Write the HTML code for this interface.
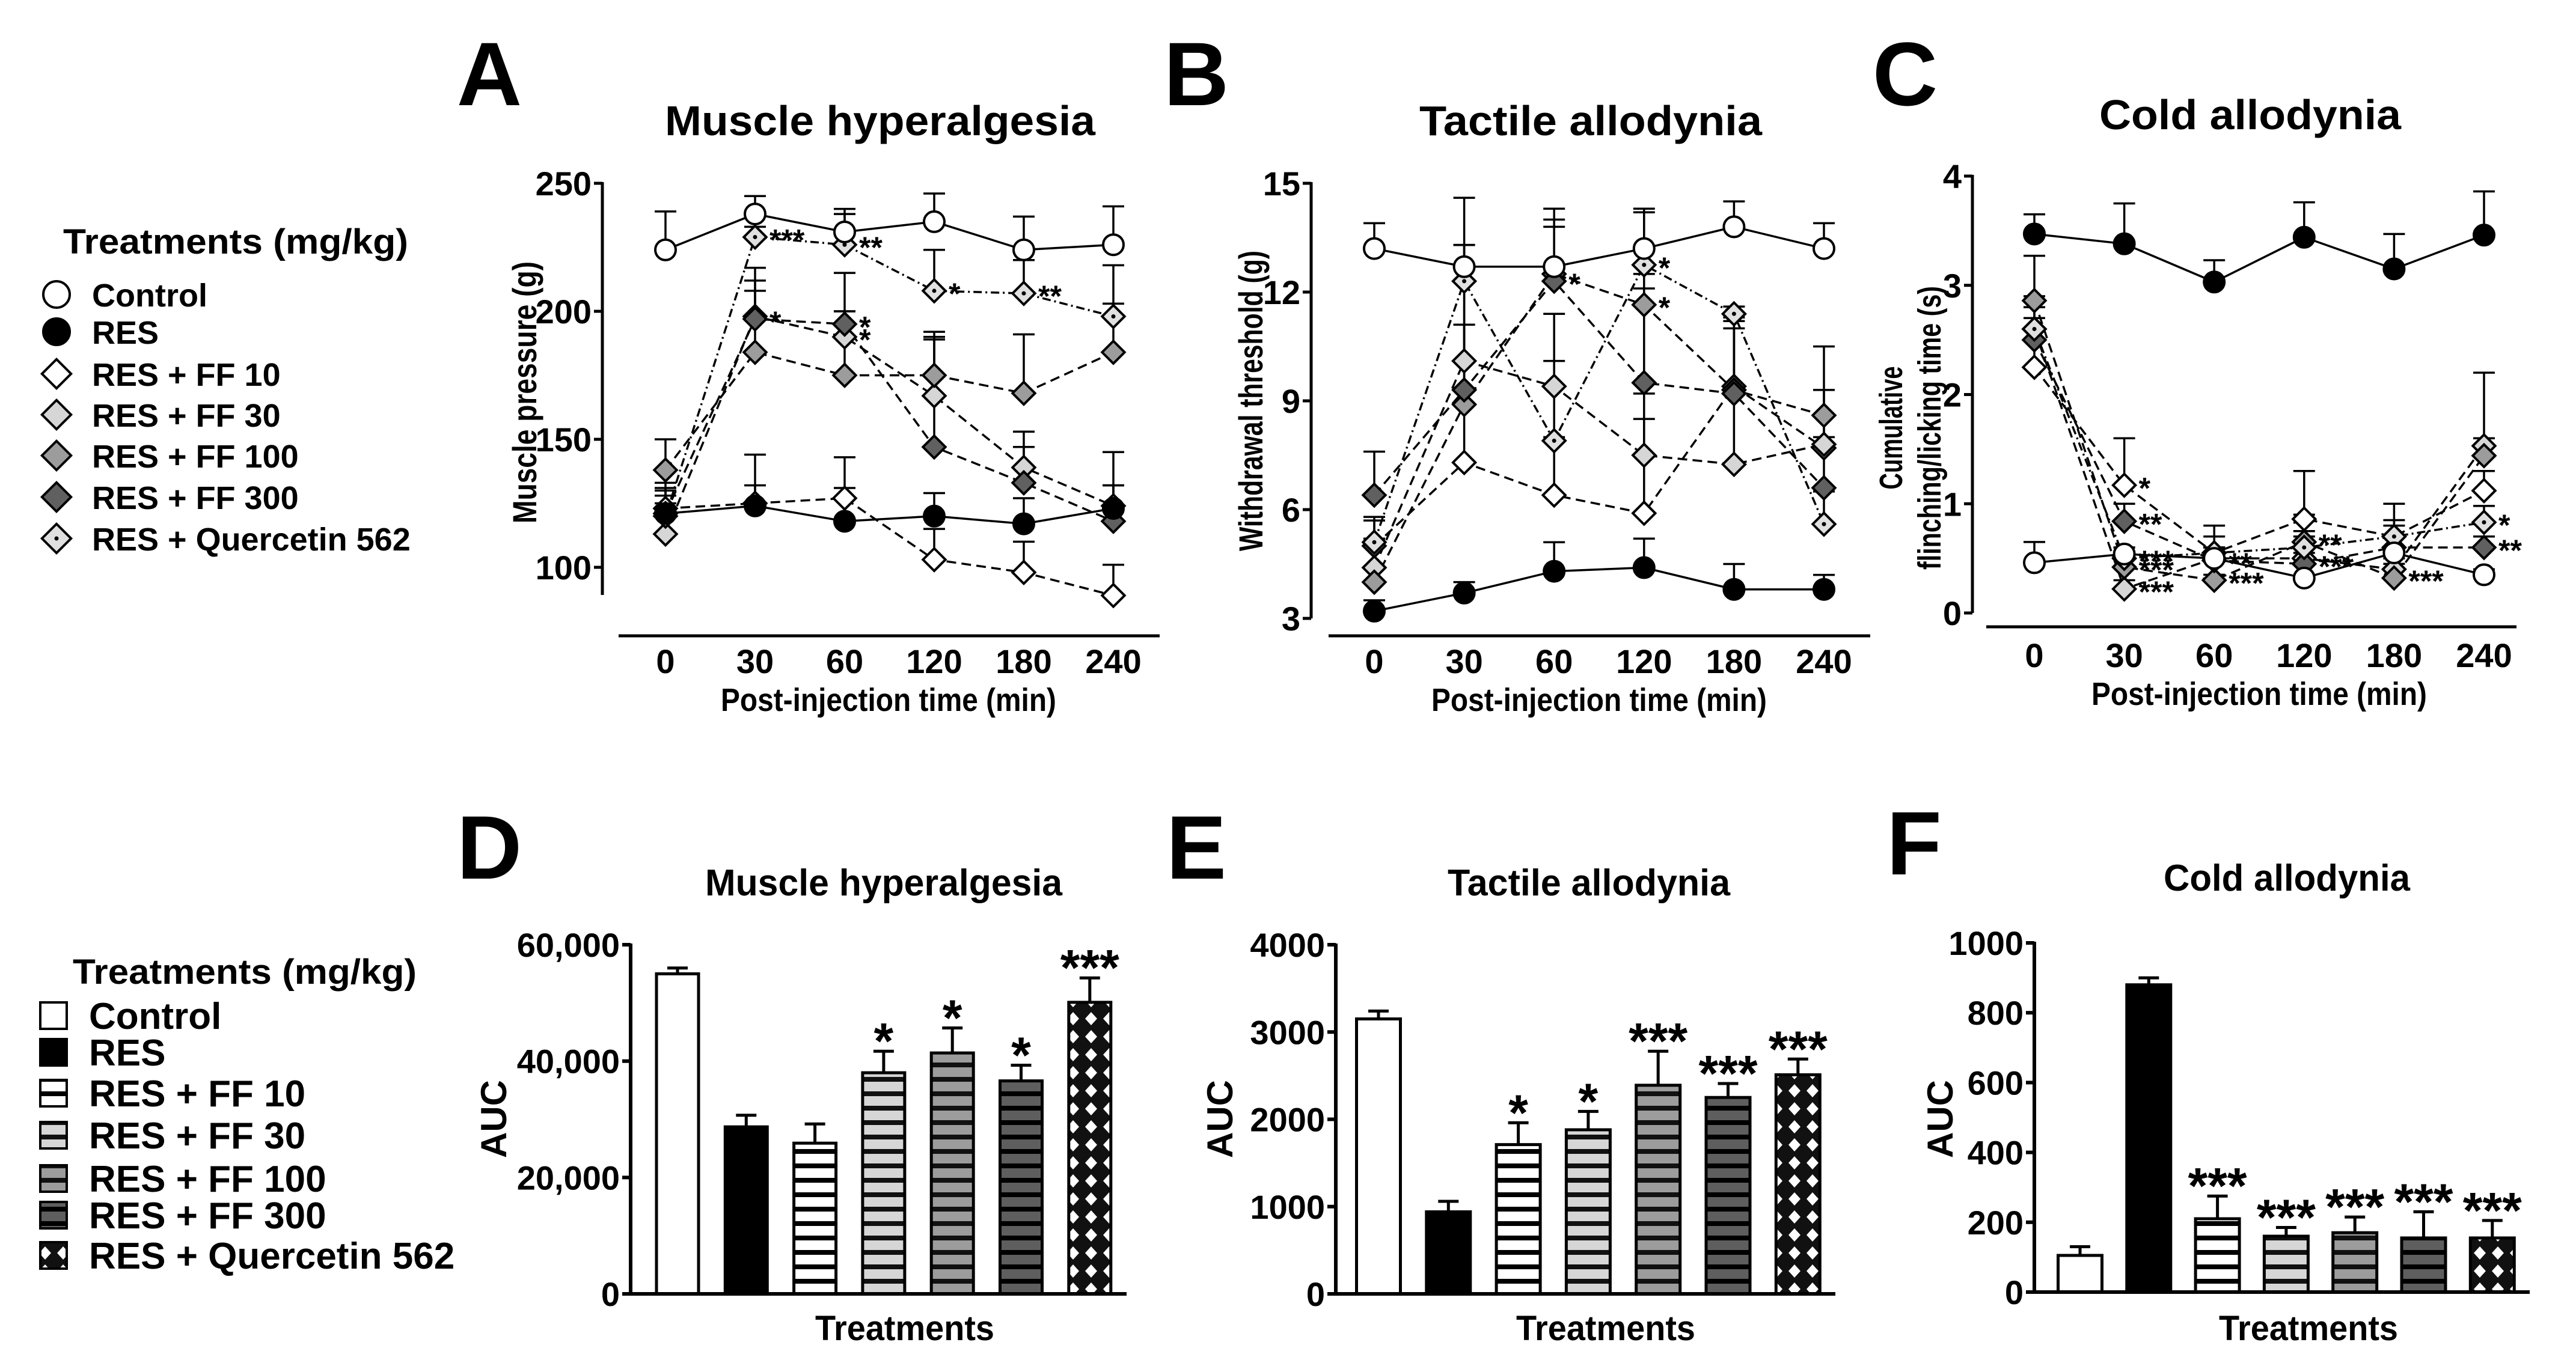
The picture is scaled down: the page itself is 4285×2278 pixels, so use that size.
<!DOCTYPE html>
<html><head><meta charset="utf-8">
<style>
html,body{margin:0;padding:0;background:#fff;}
svg{display:block;font-family:"Liberation Sans",Arial,sans-serif;font-weight:bold;}
</style></head>
<body>
<svg id="fig" width="4285" height="2278" viewBox="0 0 4285 2278" xmlns="http://www.w3.org/2000/svg">
<defs>
<pattern id="p-ff10" patternUnits="userSpaceOnUse" width="24" height="24"><rect width="24" height="24" fill="#fff"/><rect y="16" width="24" height="8" fill="#000"/></pattern>
<pattern id="p-ff30" patternUnits="userSpaceOnUse" width="24" height="24"><rect width="24" height="24" fill="#d6d6d6"/><rect y="16" width="24" height="8" fill="#111"/></pattern>
<pattern id="p-ff100" patternUnits="userSpaceOnUse" width="24" height="24"><rect width="24" height="24" fill="#9c9c9c"/><rect y="16" width="24" height="8" fill="#111"/></pattern>
<pattern id="p-ff300" patternUnits="userSpaceOnUse" width="24" height="24"><rect width="24" height="24" fill="#5e5e5e"/><rect y="16" width="24" height="8" fill="#000"/></pattern>
<pattern id="p-q" patternUnits="userSpaceOnUse" width="30" height="30"><rect width="30" height="30" fill="#111"/><path d="M15 4 L25 15 L15 26 L5 15 Z" fill="#fff"/></pattern>
</defs>
<g id="root"></g>
</svg>
<script>
// ---------- Panel A data (Muscle hyperalgesia, g) ----------
const timeLabels = ["0","30","60","120","180","240"];
const aControl = [224,238,231,235,224,226];
const aRes     = [121,124,118,120,117,123];
const aFF10    = [123,125,127,103,98,89];
const aFF30    = [113,198,190,167,139,124];
const aFF100   = [138,184,175,175,168,184];
const aFF300   = [121,197,195,147,133,118];
const aQ       = [120,229,226,208,207,198];
const aControlErr = [239,245,240,246,237,241];
const aResErr     = [131,132,131,129,127,132];
const aFF10Err    = [130,144,143,115,110,101];
const aFF30Err    = [125,217,200,190,153,145];
const aFF100Err   = [150,208,215,192,191,218];
const aFF300Err   = [133,212,200,189,147,132];
const aQErr       = [128,233,238,224,220,203];
const aTicks = [100,150,200,250];
// ---------- Panel B data (Tactile allodynia, g) ----------
const bControl = [13.2,12.7,12.7,13.2,13.8,13.2];
const bRes     = [3.2,3.7,4.3,4.4,3.8,3.8];
const bFF10    = [5.0,7.3,6.4,5.9,9.4,7.7];
const bFF30    = [4.4,10.1,9.4,7.5,7.25,7.8];
const bFF100   = [4.0,8.9,12.5,11.65,9.3,8.6];
const bFF300   = [6.4,9.3,12.3,9.5,9.2,6.6];
const bQ       = [5.1,12.3,7.9,12.75,11.4,5.6];
const bControlErr = [13.9,14.6,14.3,14.3,14.5,13.9];
const bResErr     = [3.5,4.0,5.1,5.2,4.5,4.2];
const bFF10Err    = [5.7,11.1,10.1,8.5,11.2,9.3];
const bFF30Err    = [5.1,13.3,11.4,9.2,9.2,8.0];
const bFF100Err   = [5.2,11.1,14.0,12.5,11.0,10.5];
const bFF300Err   = [7.6,12.7,13.8,12.1,11.3,8.6];
const bQErr       = [5.8,13.3,8.0,14.2,11.6,6.5];
const bTicks = [3,6,9,12,15];
// ---------- Panel C data (Cold allodynia, s) ----------
const cControl = [0.46,0.54,0.5,0.32,0.55,0.35];
const cRes     = [3.47,3.38,3.03,3.44,3.15,3.46];
const cFF10    = [2.25,1.17,0.55,0.86,0.7,1.12];
const cFF30    = [2.6,0.22,0.5,0.5,0.4,1.53];
const cFF100   = [2.86,0.42,0.3,0.65,0.32,1.44];
const cFF300   = [2.5,0.84,0.48,0.45,0.6,0.6];
const cQ       = [2.6,0.5,0.55,0.6,0.7,0.83];
const cControlErr = [0.65,0.6,0.6,0.45,0.7,0.4];
const cResErr     = [3.65,3.75,3.23,3.76,3.47,3.86];
const cFF10Err    = [2.5,1.6,0.7,1.3,1.0,1.3];
const cFF30Err    = [2.8,0.3,0.6,0.7,0.5,2.2];
const cFF100Err   = [3.27,0.5,0.35,0.9,0.45,1.6];
const cFF300Err   = [2.7,1.0,0.6,0.55,0.8,0.7];
const cQErr       = [2.9,0.6,0.8,0.75,0.85,0.98];
const cTicks = [0,1,2,3,4];
// ---------- Bar data (AUC) ----------
const groups = ["Control","RES","RES + FF 10","RES + FF 30","RES + FF 100","RES + FF 300","RES + Quercetin 562"];
const dValues = [55000,28700,25900,38000,41400,36600,50100];
const dErr    = [56000,30700,29200,41700,45700,39300,54300];
const dStars  = ["","","","*","*","*","***"];
const dTicks  = [0,20000,40000,60000];
const dTickLabels = ["0","20,000","40,000","60,000"];
const eValues = [3150,940,1710,1880,2390,2250,2510];
const eErr    = [3240,1060,1960,2090,2780,2410,2690];
const eStars  = ["","","*","*","***","***","***"];
const eTicks  = [0,1000,2000,3000,4000];
const eTickLabels = ["0","1000","2000","3000","4000"];
const fValues = [105,880,210,160,170,155,155];
const fErr    = [130,900,275,185,215,230,205];
const fStars  = ["","","***","***","***","***","***"];
const fTicks  = [0,200,400,600,800,1000];
const fTickLabels = ["0","200","400","600","800","1000"];

const NS="http://www.w3.org/2000/svg";
const root=document.getElementById('root');
function mk(tag,attrs,parent){const e=document.createElementNS(NS,tag);for(const k in attrs)e.setAttribute(k,attrs[k]);(parent||root).appendChild(e);return e;}
function txt(s,attrs,parent){const e=mk('text',attrs,parent);e.textContent=s;return e;}

const styles={
 control:{fill:"#fff",shape:"circle",dash:null},
 res:{fill:"#000",shape:"circle",dash:null},
 ff10:{fill:"#fff",shape:"diamond",dash:"16 9"},
 ff30:{fill:"#d6d6d6",shape:"diamond",dash:"16 9"},
 ff100:{fill:"#9c9c9c",shape:"diamond",dash:"16 9"},
 ff300:{fill:"#606060",shape:"diamond",dash:"16 9"},
 q:{fill:"#e0e0e0",shape:"diamond",dash:"14 6 3 6",dot:true}
};
function marker(g,kind,x,y,sz){
  const s=styles[kind];
  if(s.shape==="circle"){const c=mk('circle',{cx:x,cy:y,r:sz,fill:s.fill,stroke:"#000","stroke-width":4},g);}
  else{const d=sz*1.1;const p=mk('path',{d:`M${x} ${y-d} L${x+d} ${y} L${x} ${y+d} L${x-d} ${y} Z`,fill:s.fill,stroke:"#000","stroke-width":4},g);
    if(s.dot){const dd=mk('circle',{cx:x,cy:y,r:3.5,fill:"#000"},g);}}
}

function linePanel(cfg){
  const g=mk('g',{});
  
  
  const yS=v=>cfg.y0px+(v-cfg.y0)*(cfg.y1px-cfg.y0px)/(cfg.y1-cfg.y0);
  const xS=i=>cfg.xFirst+i*cfg.xStep;
  const t=txt(cfg.letter,{x:cfg.letterX,y:cfg.letterY,"font-size":150,"text-anchor":"middle"},g);
  
  const ti=txt(cfg.title,{x:cfg.titleX,y:cfg.titleY,"font-size":70,"text-anchor":"middle",textLength:cfg.titleLen,lengthAdjust:"spacingAndGlyphs"},g);
  
  const ya=mk('line',{x1:cfg.axX,y1:yS(cfg.ticks[cfg.ticks.length-1])-2,x2:cfg.axX,y2:cfg.axBottom,stroke:"#000","stroke-width":5},g);
  
  const xa=mk('line',{x1:cfg.xaX1,y1:cfg.xaY,x2:cfg.xaX2,y2:cfg.xaY,stroke:"#000","stroke-width":5},g);
  
  cfg.ticks.forEach(v=>{
    const tk=mk('line',{x1:cfg.axX-14,y1:yS(v),x2:cfg.axX,y2:yS(v),stroke:"#000","stroke-width":5},g);
    
    const tl=txt(String(v),{x:cfg.axX-18,y:yS(v)+20,"font-size":56,"text-anchor":"end"},g);
    
  });
  timeLabels.forEach((l,i)=>{
    const tl=txt(l,{x:xS(i),y:cfg.xLabY,"font-size":56,"text-anchor":"middle"},g);
    
  });
  const xt=txt("Post-injection time (min)",{x:cfg.xTitleX,y:cfg.xTitleY,"font-size":54,"text-anchor":"middle",textLength:558,lengthAdjust:"spacingAndGlyphs"},g);
  
  cfg.yTitle.forEach((line,k)=>{
    const yt=txt(line,{x:0,y:0,"font-size":cfg.yTitleSize,"text-anchor":"middle",transform:`translate(${cfg.yTitleX+k*64},${cfg.yTitleY}) rotate(-90)`,textLength:cfg.yTitleLen[k],lengthAdjust:"spacingAndGlyphs"},g);
    
  });
  const order=["ff10","ff30","ff100","ff300","q","res","control"];
  order.forEach(k=>{
    const vals=cfg.series[k];
    const pts=vals.map((v,i)=>xS(i)+","+yS(v)).join(" ");
    const a={points:pts,fill:"none",stroke:"#000","stroke-width":cfg.lw};
    if(styles[k].dash)a["stroke-dasharray"]=styles[k].dash;
    const pl=mk('polyline',a,g);
    
  });
  order.forEach(k=>{
    const vals=cfg.series[k],err=cfg.errs[k];
    vals.forEach((v,i)=>{
      const x=xS(i);
      const eb=mk('path',{d:`M${x} ${yS(v)} V${yS(err[i])} M${x-18} ${yS(err[i])} H${x+18}`,stroke:"#000","stroke-width":3.5,fill:"none"},g);
      
    });
  });
  order.forEach(k=>{cfg.series[k].forEach((v,i)=>marker(g,k,xS(i),yS(v),cfg.msz));});
  cfg.stars.forEach(s=>{
    const v=cfg.series[s[0]][s[1]];
    const st=txt(s[2],{x:xS(s[1])+24,y:yS(v)+22,"font-size":50},g);
    
  });
}

linePanel({name:"panel-a-muscle-hyperalgesia",letter:"A",letterX:814,letterY:175,title:"Muscle hyperalgesia",titleX:1464,titleY:225,titleLen:716,
 y0:100,y1:250,y0px:944,y1px:305,axX:1002,axBottom:990,xaX1:1029,xaX2:1929,xaY:1058,xFirst:1107,xStep:149,xLabY:1120,xTitleX:1478,xTitleY:1183,
 yTitle:["Muscle pressure (g)"],yTitleX:892,yTitleY:653,yTitleLen:[436],yTitleSize:56,ticks:aTicks,lw:3.5,msz:17,
 series:{control:aControl,res:aRes,ff10:aFF10,ff30:aFF30,ff100:aFF100,ff300:aFF300,q:aQ},
 errs:{control:aControlErr,res:aResErr,ff10:aFF10Err,ff30:aFF30Err,ff100:aFF100Err,ff300:aFF300Err,q:aQErr},
 stars:[["q",1,"***"],["q",2,"**"],["q",3,"*"],["q",4,"**"],["ff300",1,"*"],["ff300",2,"*"],["ff30",2,"*"]]});
linePanel({name:"panel-b-tactile-allodynia",letter:"B",letterX:1990,letterY:175,title:"Tactile allodynia",titleX:2646,titleY:225,titleLen:570,
 y0:3,y1:15,y0px:1029,y1px:305,axX:2181,axBottom:1029,xaX1:2210,xaX2:3111,xaY:1058,xFirst:2286,xStep:149.6,xLabY:1120,xTitleX:2660,xTitleY:1183,
 yTitle:["Withdrawal threshold (g)"],yTitleX:2100,yTitleY:667,yTitleLen:[500],yTitleSize:56,ticks:bTicks,lw:3.5,msz:17,
 series:{control:bControl,res:bRes,ff10:bFF10,ff30:bFF30,ff100:bFF100,ff300:bFF300,q:bQ},
 errs:{control:bControlErr,res:bResErr,ff10:bFF10Err,ff30:bFF30Err,ff100:bFF100Err,ff300:bFF300Err,q:bQErr},
 stars:[["ff300",2,"*"],["q",3,"*"],["ff100",3,"*"]]});
linePanel({name:"panel-c-cold-allodynia",letter:"C",letterX:3169,letterY:175,title:"Cold allodynia",titleX:3743,titleY:215,titleLen:502,
 y0:0,y1:4,y0px:1020,y1px:293,axX:3281,axBottom:1020,xaX1:3304,xaX2:4186,xaY:1043,xFirst:3384,xStep:149.6,xLabY:1110,xTitleX:3758,xTitleY:1173,
 yTitle:["Cumulative","flinching/licking time (s)"],yTitleX:3164,yTitleY:712,yTitleLen:[205,472],yTitleSize:54,ticks:cTicks,lw:3.5,msz:17,
 series:{control:cControl,res:cRes,ff10:cFF10,ff30:cFF30,ff100:cFF100,ff300:cFF300,q:cQ},
 errs:{control:cControlErr,res:cResErr,ff10:cFF10Err,ff30:cFF30Err,ff100:cFF100Err,ff300:cFF300Err,q:cQErr},
 stars:[["ff10",1,"*"],["ff300",1,"**"],["q",1,"***"],["ff100",1,"***"],["ff30",1,"***"],["ff300",2,"**"],["ff100",2,"***"],["ff100",3,"**"],["ff300",3,"***"],["ff100",4,"***"],["q",5,"*"],["ff300",5,"**"]]});

const fills=["#fff","#000","url(#p-ff10)","url(#p-ff30)","url(#p-ff100)","url(#p-ff300)","url(#p-q)"];
function barPanel(cfg){
  const g=mk('g',{});
  
  
  const yS=v=>cfg.y0px+(v-cfg.ticks[0])*(cfg.y1px-cfg.y0px)/(cfg.ticks[cfg.ticks.length-1]-cfg.ticks[0]);
  const xS=i=>cfg.xFirst+i*cfg.xStep;
  const t=txt(cfg.letter,{x:cfg.letterX,y:cfg.letterY,"font-size":150,"text-anchor":"middle"},g);
  
  const ti=txt(cfg.title,{x:cfg.titleX,y:cfg.titleY,"font-size":62,"text-anchor":"middle",textLength:cfg.titleLen,lengthAdjust:"spacingAndGlyphs"},g);
  
  cfg.values.forEach((v,i)=>{
    const x=xS(i),w=cfg.bw;
    const eb=mk('path',{d:`M${x} ${yS(v)} V${yS(cfg.err[i])} M${x-17} ${yS(cfg.err[i])} H${x+17}`,stroke:"#000","stroke-width":5,fill:"none"},g);
    
    const r=mk('rect',{x:x-w/2,y:yS(v),width:w,height:yS(0)-yS(v),fill:fills[i],stroke:"#000","stroke-width":5},g);
    
    if(cfg.stars[i]){const st=txt(cfg.stars[i],{x:x,y:yS(cfg.err[i])+12,"font-size":84,"text-anchor":"middle"},g);
      }
  });
  const ya=mk('line',{x1:cfg.axX,y1:cfg.y1px-2,x2:cfg.axX,y2:cfg.y0px,stroke:"#000","stroke-width":6},g);
  
  const xa=mk('line',{x1:cfg.axX,y1:cfg.y0px,x2:cfg.xaX2,y2:cfg.y0px,stroke:"#000","stroke-width":6},g);
  
  cfg.ticks.forEach((v,k)=>{
    const tk=mk('line',{x1:cfg.axX-14,y1:yS(v),x2:cfg.axX,y2:yS(v),stroke:"#000","stroke-width":6},g);
    
    const tl=txt(cfg.tickLabels[k],{x:cfg.axX-18,y:yS(v)+20,"font-size":56,"text-anchor":"end"},g);
    
  });
  const xt=txt("Treatments",{x:cfg.xTitleX,y:2230,"font-size":58,"text-anchor":"middle",textLength:298,lengthAdjust:"spacingAndGlyphs"},g);
  
  const yt=txt("AUC",{x:0,y:0,"font-size":60,"text-anchor":"middle",transform:`translate(${cfg.yTitleX},1862) rotate(-90)`},g);
  
}
barPanel({name:"panel-d-muscle-auc",letter:"D",letterX:814,letterY:1462,title:"Muscle hyperalgesia",titleX:1470,titleY:1490,titleLen:594,
 values:dValues,err:dErr,stars:dStars,ticks:dTicks,tickLabels:dTickLabels,y0px:2153,y1px:1572,axX:1049,xaX2:1874,xFirst:1127,xStep:114.3,bw:70,xTitleX:1505,yTitleX:842});
barPanel({name:"panel-e-tactile-auc",letter:"E",letterX:1990,letterY:1462,title:"Tactile allodynia",titleX:2643,titleY:1490,titleLen:470,
 values:eValues,err:eErr,stars:eStars,ticks:eTicks,tickLabels:eTickLabels,y0px:2153,y1px:1572,axX:2222,xaX2:3053,xFirst:2293,xStep:116.3,bw:73,xTitleX:2671,yTitleX:2050});
barPanel({name:"panel-f-cold-auc",letter:"F",letterX:3184,letterY:1455,title:"Cold allodynia",titleX:3804,titleY:1482,titleLen:410,
 values:fValues,err:fErr,stars:fStars,ticks:fTicks,tickLabels:fTickLabels,y0px:2150,y1px:1569,axX:3384,xaX2:4208,xFirst:3460,xStep:114.3,bw:73,xTitleX:3840,yTitleX:3248});

// ---------- Legends ----------
const lgKinds=["control","res","ff10","ff30","ff100","ff300","q"];
const lg1=mk('g',{});


const lt1=txt("Treatments (mg/kg)",{x:105,y:422,"font-size":58,textLength:574,lengthAdjust:"spacingAndGlyphs"},lg1);

const lg1Y=[490,552,622,690,758,827,896];
groups.forEach((name,i)=>{
  marker(lg1,lgKinds[i],94,lg1Y[i],22);
  const e=txt(name,{x:153,y:lg1Y[i]+20,"font-size":54},lg1);
  
});
const lg2=mk('g',{});


const lt2=txt("Treatments (mg/kg)",{x:121,y:1637,"font-size":58,textLength:572,lengthAdjust:"spacingAndGlyphs"},lg2);

const lg2Y=[1690,1751,1819,1889,1961,2022,2089];
groups.forEach((name,i)=>{
  const r=mk('rect',{x:67,y:lg2Y[i]-22,width:44,height:44,fill:fills[i],stroke:"#000","stroke-width":4},lg2);
  
  const e=txt(name,{x:148,y:lg2Y[i]+22,"font-size":62},lg2);
  
});
</script>
</body></html>
